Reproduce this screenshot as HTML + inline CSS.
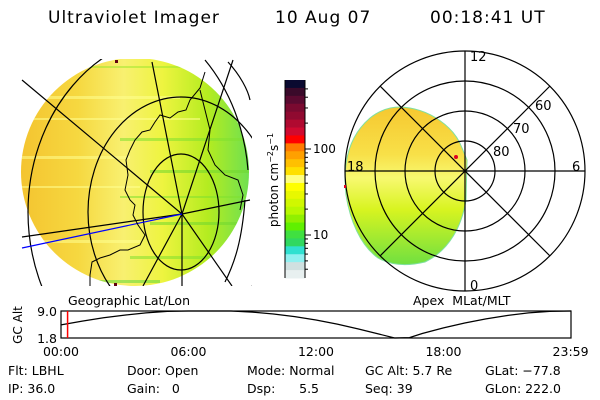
<!DOCTYPE html>
<html><head><meta charset="utf-8">
<style>
body{margin:0;background:#fff;}
svg{display:block;font-family:"DejaVu Sans","Liberation Sans",sans-serif;}
text{white-space:pre;}
</style></head>
<body>
<svg width="600" height="400" viewBox="0 0 600 400" xmlns="http://www.w3.org/2000/svg">
<defs>
  <linearGradient id="geoGrad" x1="0" y1="0" x2="1" y2="0">
    <stop offset="0" stop-color="#f4c430"/>
    <stop offset="0.25" stop-color="#f6d840"/>
    <stop offset="0.45" stop-color="#f8f070"/>
    <stop offset="0.62" stop-color="#eef440"/>
    <stop offset="0.82" stop-color="#b4ec20"/>
    <stop offset="1" stop-color="#70e050"/>
  </linearGradient>
  <linearGradient id="polGrad" x1="0" y1="0" x2="0" y2="1">
    <stop offset="0" stop-color="#f6c830"/>
    <stop offset="0.3" stop-color="#f8e048"/>
    <stop offset="0.45" stop-color="#f8f870"/>
    <stop offset="0.65" stop-color="#d8f420"/>
    <stop offset="1" stop-color="#70e040"/>
  </linearGradient>
  <clipPath id="geoClip"><rect x="20" y="59" width="232" height="227"/></clipPath>
  <clipPath id="diskClip"><circle cx="135" cy="172" r="114"/></clipPath>
</defs>

<g font-size="17" fill="#000" letter-spacing="1">
  <text x="48" y="23">Ultraviolet Imager</text>
  <text x="275" y="23">10 Aug 07</text>
  <text x="430" y="23">00:18:41 UT</text>
</g>

<!-- Geographic image -->
<g clip-path="url(#geoClip)">
  <circle cx="135" cy="172" r="114" fill="url(#geoGrad)"/>
  <g clip-path="url(#diskClip)" opacity="0.55">
    <rect x="20" y="96" width="160" height="3" fill="#ffff90"/>
    <rect x="20" y="118" width="180" height="2" fill="#ffff90"/>
    <rect x="120" y="138" width="130" height="3" fill="#80e030"/>
    <rect x="20" y="156" width="110" height="3" fill="#ffff90"/>
    <rect x="150" y="170" width="100" height="3" fill="#70d830"/>
    <rect x="20" y="186" width="120" height="2" fill="#ffff90"/>
    <rect x="120" y="196" width="130" height="2" fill="#80e030"/>
    <rect x="150" y="222" width="100" height="3" fill="#70d830"/>
    <rect x="20" y="240" width="120" height="3" fill="#ffff90"/>
    <rect x="130" y="256" width="120" height="3" fill="#80e030"/>
    <rect x="90" y="280" width="70" height="3" fill="#60d840"/>
    <rect x="20" y="66" width="230" height="2" fill="#a0e830"/>
  </g>
  <g fill="none" stroke="#000" stroke-width="1.2">
    <ellipse cx="181" cy="212" rx="38" ry="58"/>
    <ellipse cx="181" cy="212" rx="93" ry="115"/>
    <ellipse cx="181" cy="212" rx="153" ry="179"/>
    <polyline points="22,80 182,214 232,286"/>
    <polyline points="152,62 182,214 182,286"/>
    <polyline points="233,60 182,214 143,286"/>
    <polyline points="22,237 182,214 250,200"/>
    <path d="M205,60 C230,90 245,130 248,170"/>
    <path d="M228,62 C240,75 248,90 250,100"/>
    <path d="M225,282 C235,262 242,240 245,200"/>
  </g>
  <polyline points="22,248 182,214" fill="none" stroke="#0000ff" stroke-width="1.2"/>
  <path d="M205,72 L200,88 L190,100 L186,110 L178,112 L170,118 L160,115 L155,122 L150,130 L142,132 L135,140 L130,150 L126,160 L128,175 L125,190 L130,200 L135,205 L133,215 L138,225 L145,235 L140,245 L128,250 L120,250 L110,255 L100,258 L92,262 L90,275 L90,286 M200,90 L205,110 L210,130 L208,150 L215,165 L225,175 L238,180 L243,195 L240,210" fill="none" stroke="#000" stroke-width="1"/>
  <rect x="115" y="60" width="3" height="3" fill="#600010"/>
  <rect x="114" y="283" width="3" height="3" fill="#600010"/>
</g>
<text x="68" y="305" font-size="12.5">Geographic Lat/Lon</text>

<!-- Colorbar -->
<g id="colorbar"></g>
<text transform="translate(278,180) rotate(-90)" text-anchor="middle" font-size="12">photon cm<tspan font-size="8" dy="-5">−2</tspan><tspan dy="5">s</tspan><tspan font-size="8" dy="-5">−1</tspan></text>

<!-- Polar plot -->
<g>
  <path d="M400,107 C430,108 455,128 462,148 L467,160 L466,200 C462,225 450,250 425,262 C400,268 385,262 378,258 C360,245 350,220 346,195 C342,160 350,135 370,118 C380,110 390,107 400,107Z" fill="url(#polGrad)" stroke="#80e0a0" stroke-width="1"/>
  <g fill="none" stroke="#000" stroke-width="1.2">
    <circle cx="465" cy="171" r="30"/>
    <circle cx="465" cy="171" r="60"/>
    <circle cx="465" cy="171" r="90"/>
    <circle cx="465" cy="171" r="120"/>
    <line x1="465" y1="51" x2="465" y2="291"/>
    <line x1="345" y1="171" x2="585" y2="171"/>
    <line x1="380" y1="86" x2="550" y2="256"/>
    <line x1="550" y1="86" x2="380" y2="256"/>
  </g>
  <circle cx="456" cy="157" r="2" fill="#e00020"/>
  <rect x="344" y="185" width="2" height="3" fill="#e00020"/>
  <g font-size="13">
    <text x="470" y="61">12</text>
    <text x="572" y="171">6</text>
    <text x="470" y="290">0</text>
    <text x="347" y="171">18</text>
    <text x="493" y="156">80</text>
    <text x="513" y="133">70</text>
    <text x="535" y="110">60</text>
  </g>
</g>
<text x="413" y="305" font-size="12.5">Apex  MLat/MLT</text>

<!-- Altitude timeline -->
<g id="altplot"></g>
<text transform="translate(22,325) rotate(-90)" text-anchor="middle" font-size="12">GC Alt</text>

<!-- Info text -->
<g font-size="12.5">
  <text x="8" y="375">Flt: LBHL</text>
  <text x="8" y="393">IP: 36.0</text>
  <text x="127" y="375">Door: Open</text>
  <text x="127" y="393">Gain:   0</text>
  <text x="247" y="375">Mode: Normal</text>
  <text x="247" y="393">Dsp:      5.5</text>
  <text x="365" y="375">GC Alt: 5.7 Re</text>
  <text x="365" y="393">Seq: 39</text>
  <text x="485" y="375">GLat: −77.8</text>
  <text x="485" y="393">GLon: 222.0</text>
</g>
</svg>
<script>
const NS="http://www.w3.org/2000/svg";
// Colorbar data
const cbColors=["#0a0a30","#3a0a2a","#5a0a30","#7a0a30","#900a30","#b00a30","#d00a30","#ff0000","#ff7a00","#ffa000","#ffc000","#ffe000","#ffff80","#ffff00","#e8f800","#d0f800","#b8f800","#90f000","#60f000","#40e040","#30d860","#30e0d0","#90f0f0","#d0e0e0","#e8f0f0"];
const cbTickLabels=["100","10"];
const cbTickValues=[100,10];
// Altitude timeline data
const altHours=[0,1,2,3,4,5,6,7,8,9,10,11,12,13,14,15,15.7,16.4,17,18,19,20,21,22,23,24];
const altValues=[5.3,6.3,7.2,7.9,8.5,8.9,9.0,9.1,9.0,8.7,8.2,7.5,6.6,5.5,4.2,2.8,1.8,1.9,3.0,4.5,5.8,6.9,7.8,8.5,8.9,9.1];
const altTickLabels=["9.0","1.8"];
const altTickValues=[9.0,1.8];
const timeTickLabels=["00:00","06:00","12:00","18:00","23:59"];
const timeTickHours=[0,6,12,18,23.98];
const currentHour=0.31;

function mk(tag,attrs,parent){const e=document.createElementNS(NS,tag);for(const k in attrs)e.setAttribute(k,attrs[k]);parent.appendChild(e);return e;}

const cb=document.getElementById('colorbar');
const cbX=285,cbW=20,cbTop=80,cbBot=278;
function cbY(v){ return 235-(Math.log10(v)-1)*(235-149); }
const bandH=(cbBot-cbTop)/cbColors.length;
cbColors.forEach((c,i)=>{
  const r=mk('rect',{x:cbX,y:cbTop+i*bandH,width:cbW,height:bandH+0.5,fill:c},cb);
  
  
});
mk('line',{x1:cbX,y1:cbTop,x2:cbX,y2:cbBot,stroke:'#000'},cb);
mk('line',{x1:cbX+cbW,y1:cbTop,x2:cbX+cbW,y2:cbBot,stroke:'#000'},cb);
[3,4,5,6,7,8,9,20,30,40,50,60,70,80,90,200,300,400,500].forEach(v=>{
  const y=cbY(v); if(y<cbTop||y>cbBot)return;
  mk('line',{x1:cbX+cbW,y1:y,x2:cbX+cbW+3,y2:y,stroke:'#000'},cb);
});
cbTickValues.forEach((v,i)=>{
  const y=cbY(v);
  mk('line',{x1:cbX+cbW,y1:y,x2:cbX+cbW+6,y2:y,stroke:'#000'},cb);
  const t=mk('text',{x:cbX+cbW+8,y:y+4,'font-size':12},cb);
  t.textContent=cbTickLabels[i];
  
  
});

const ap=document.getElementById('altplot');
const px0=61,px1=571,py0=311,py1=338;
const xS=h=>px0+h/24*(px1-px0);
const yS=v=>py1-(v-1.8)/(9.0-1.8)*(py1-py0);
const box=mk('rect',{x:px0,y:py0,width:px1-px0,height:py1-py0,fill:'#fff',stroke:'#000','stroke-width':1.2},ap);


const line=mk('polyline',{points:altHours.map((h,i)=>xS(h)+','+Math.max(py0,Math.min(py1,yS(altValues[i])))).join(' '),fill:'none',stroke:'#000','stroke-width':1.2},ap);


const cur=mk('line',{x1:xS(currentHour),y1:py0,x2:xS(currentHour),y2:py1,stroke:'#ff0000','stroke-width':1.5},ap);


altTickValues.forEach((v,i)=>{
  const t=mk('text',{x:px0-4,y:yS(v)+5,'text-anchor':'end','font-size':12.5},ap);
  t.textContent=altTickLabels[i];
  
  
});
timeTickHours.forEach((h,i)=>{
  const t=mk('text',{x:xS(h),y:356,'text-anchor':'middle','font-size':12.5},ap);
  t.textContent=timeTickLabels[i];
  
  
});
</script>
</body></html>
